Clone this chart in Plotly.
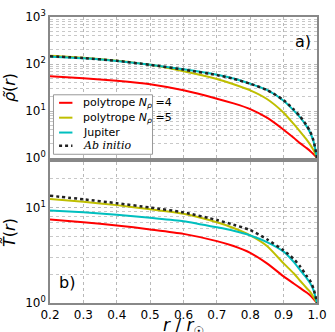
import plotly.graph_objects as go
from plotly.subplots import make_subplots

r = [0.2, 0.3, 0.4, 0.5, 0.6, 0.7, 0.75, 0.8, 0.85, 0.9, 0.93, 0.95, 0.97, 0.98, 0.99, 1.0]

# density profiles (top panel)
rho_poly4 = [55, 50, 44, 37, 27.5, 18.3, 14.5, 11, 7.2, 4.0, 2.7, 2.05, 1.6, 1.4, 1.2, 1.0]
rho_poly5 = [150, 136, 118, 96, 70, 48, 37, 27.5, 18, 9.2, 5.3, 3.6, 2.4, 1.9, 1.45, 1.0]
rho_jupiter = [143, 132, 116, 96, 77, 59, 49, 38, 28, 16.5, 10.3, 7.2, 4.6, 3.4, 2.2, 1.0]
rho_abinitio = [146, 134, 117, 96, 76, 58, 48.5, 38, 28, 17, 10.8, 7.6, 4.8, 3.6, 2.3, 1.0]

# temperature profiles (bottom panel)
T_poly4 = [7.5, 7.0, 6.5, 5.9, 5.3, 4.45, 3.95, 3.35, 2.6, 1.9, 1.6, 1.43, 1.28, 1.2, 1.1, 1.0]
T_poly5 = [12.3, 11.5, 10.6, 9.6, 8.6, 7.0, 6.1, 5.1, 3.95, 2.6, 2.05, 1.7, 1.42, 1.3, 1.15, 1.0]
T_jupiter = [9.3, 8.9, 8.4, 7.8, 7.2, 6.2, 5.7, 5.1, 4.35, 3.45, 2.7, 2.2, 1.8, 1.6, 1.35, 1.0]
T_abinitio = [13.3, 12.2, 11.1, 10.0, 8.9, 7.4, 6.6, 5.8, 4.65, 3.55, 2.9, 2.4, 1.9, 1.7, 1.4, 1.0]

names = [
    "polytrope <i>N</i><sub><i>ρ</i></sub> =4",
    "polytrope <i>N</i><sub><i>ρ</i></sub> =5",
    "Jupiter",
    "<span style='font-family:DejaVu Serif'><i>Ab initio</i></span>",
]
colors = ["#ff0000", "#bfbf00", "#00bfbf", "#222222"]
x_ticks = [0.2, 0.3, 0.4, 0.5, 0.6, 0.7, 0.8, 0.9, 1.0]
x_labels = ["0.2", "0.3", "0.4", "0.5", "0.6", "0.7", "0.8", "0.9", "1.0"]
minor_rho = [k * 10 ** p for p in range(3) for k in range(2, 10)]
minor_T = [k * 10 ** p for p in range(2) for k in range(2, 10)]

fig = make_subplots(rows=2, cols=1, shared_xaxes=True, vertical_spacing=0.014)

styles = []
for i, (rho, T) in enumerate(
    zip(
        [rho_poly4, rho_poly5, rho_jupiter, rho_abinitio],
        [T_poly4, T_poly5, T_jupiter, T_abinitio],
    )
):
    if i == 3:
        line = {"color": colors[i], "width": 2.5, "dash": "dot", "shape": "spline", "smoothing": 0.6}
    else:
        line = {"color": colors[i], "width": 2, "shape": "spline", "smoothing": 0.6}
    styles.append(line)
    fig.add_trace(go.Scatter(x=r, y=rho, mode="lines", name=names[i], line=line), row=1, col=1)
    fig.add_trace(go.Scatter(x=r, y=T, mode="lines", name=names[i], line=line), row=2, col=1)

grid = {"showgrid": True, "gridcolor": "#b8b8b8", "griddash": "dot", "gridwidth": 1}
frame = {"showline": True, "linecolor": "#888888", "linewidth": 1.5, "mirror": True,
         "zeroline": False, "tickfont": {"size": 12, "color": "black"}}

fig.update_xaxes(range=[0.2, 1.0], tickvals=x_ticks, ticktext=x_labels,
                 minor={"showgrid": False}, **grid, **frame)
fig.update_xaxes(showticklabels=False, row=1, col=1)

fig.update_yaxes(
    type="log", range=[0, 3], tickvals=[1, 10, 100, 1000],
    ticktext=["10<sup>0</sup>", "10<sup>1</sup>", "10<sup>2</sup>", "10<sup>3</sup>"],
    minor={"tickvals": minor_rho, "showgrid": True, "gridcolor": "#c8c8c8",
           "griddash": "dot", "ticks": ""},
    title={"text": "<i>ρ̃</i>(<i>r</i>)", "font": {"size": 16}, "standoff": 6},
    **grid, **frame, row=1, col=1,
)
fig.update_yaxes(
    type="log", range=[0, 1.477], tickvals=[1, 10],
    ticktext=["10<sup>0</sup>", "10<sup>1</sup>"],
    minor={"tickvals": minor_T, "showgrid": True, "gridcolor": "#c8c8c8",
           "griddash": "dot", "ticks": ""},
    title={"text": "<i>T̃</i>(<i>r</i>)", "font": {"size": 16}, "standoff": 6},
    **grid, **frame, row=2, col=1,
)

# legend box drawn by hand so the rows can sit as tight as in the original
fig.add_shape(type="rect", xref="paper", yref="paper", x0=0.013, x1=0.384, y0=0.520, y1=0.728,
              fillcolor="white", line={"color": "#999999", "width": 1}, layer="above")
legend_y = [0.700, 0.648, 0.596, 0.550]
for i, ly in enumerate(legend_y):
    fig.add_shape(type="line", xref="paper", yref="paper", x0=0.034, x1=0.084, y0=ly, y1=ly,
                  line={"color": styles[i]["color"], "width": styles[i]["width"],
                        "dash": styles[i].get("dash", "solid")}, layer="above")
    fig.add_annotation(text=names[i], x=0.115, y=ly, xref="paper", yref="paper",
                       xanchor="left", yanchor="middle", showarrow=False,
                       font={"size": 11})

fig.add_annotation(text="a)", x=0.985, y=0.955, xref="paper", yref="paper",
                   xanchor="right", yanchor="top", showarrow=False, font={"size": 16})
fig.add_annotation(text="b)", x=0.025, y=0.03, xref="paper", yref="paper",
                   xanchor="left", yanchor="bottom", showarrow=False, font={"size": 16})
fig.add_annotation(text="<i>r</i> / <i>r</i><sub>☉</sub>", x=0.5, y=-0.035, xref="paper",
                   yref="paper", xanchor="center", yanchor="top", showarrow=False,
                   font={"size": 17})

fig.update_layout(
    width=335, height=332,
    margin={"l": 49, "r": 8, "t": 14, "b": 29},
    paper_bgcolor="white", plot_bgcolor="white",
    font={"family": "DejaVu Sans", "color": "black"},
    showlegend=False,
)

fig.write_html("out.html", config={"displayModeBar": False},
               post_script="document.body.style.margin = '0';")
